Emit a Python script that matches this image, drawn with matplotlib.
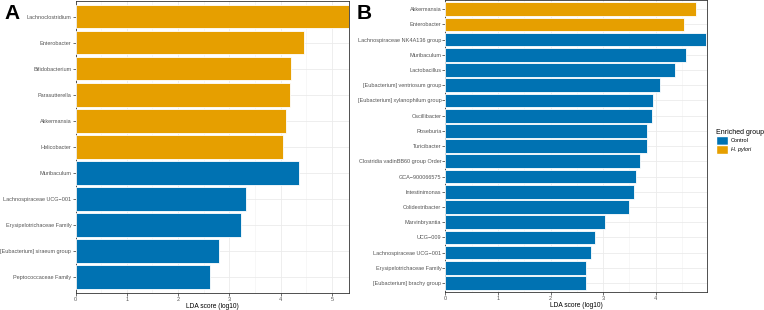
import matplotlib
matplotlib.use("Agg")
import matplotlib.pyplot as plt
from matplotlib.patches import Patch
from matplotlib.ticker import MultipleLocator

plt.rcParams['font.family'] = ['Liberation Sans', 'DejaVu Sans']

# ---- data, panel A (top to bottom)
taxa_a = ["Lachnoclostridium", "Enterobacter", "Bifidobacterium", "Parasutterella",
          "Akkermansia", "Helicobacter", "Muribaculum", "Lachnospiraceae UCG\u2212001",
          "Erysipelotrichaceae Family", "[Eubacterium] siraeum group", "Peptococcaceae Family"]
lda_a = [5.33, 4.45, 4.19, 4.18, 4.11, 4.05, 4.36, 3.32, 3.23, 2.80, 2.62]
group_a = ["H. pylori"] * 6 + ["Control"] * 5

# ---- data, panel B (top to bottom)
taxa_b = ["Akkermansia", "Enterobacter", "Lachnospiraceae NK4A136 group", "Muribaculum",
          "Lactobacillus", "[Eubacterium] ventriosum group", "[Eubacterium] xylanophilum group",
          "Oscillibacter", "Roseburia", "Turicibacter", "Clostridia vadinBB60 group Order",
          "GCA\u2212900066575", "Intestinimonas", "Colidextribacter", "Marvinbryantia",
          "UCG\u2212009", "Lachnospiraceae UCG\u2212001", "Erysipelotrichaceae Family",
          "[Eubacterium] brachy group"]
lda_b = [4.77, 4.54, 4.97, 4.59, 4.38, 4.09, 3.95, 3.94, 3.84, 3.84, 3.70, 3.63,
         3.59, 3.50, 3.03, 2.85, 2.77, 2.68, 2.68]
group_b = ["H. pylori"] * 2 + ["Control"] * 17

colors = {"Control": "#0072B2", "H. pylori": "#E69F00"}

W, H = 764, 310
fig = plt.figure(figsize=(W / 100, H / 100), dpi=100)


def panel(rect, taxa, vals, groups, xmax, xticks):
    ax = fig.add_axes(rect)
    n = len(taxa)
    pos = list(range(n))[::-1]
    ax.barh(pos, vals, height=0.9, color=[colors[g] for g in groups],
            edgecolor="white", linewidth=0.6, zorder=3)
    ax.set_ylim(-0.6, n - 0.4)
    ax.set_xlim(0, xmax)
    ax.set_yticks(pos)
    ax.set_yticklabels(taxa)
    ax.set_xticks(xticks)
    ax.xaxis.set_minor_locator(MultipleLocator(0.5))
    ax.grid(which="major", color="#EBEBEB", linewidth=0.6, zorder=0)
    ax.grid(which="minor", axis="x", color="#F2F2F2", linewidth=0.4, zorder=0)
    ax.tick_params(axis="both", which="major", labelsize=4, labelcolor="#555555",
                   color="#333333", length=2, width=0.5, pad=1)
    ax.tick_params(axis="x", which="minor", length=0)
    for s in ax.spines.values():
        s.set_color("#333333")
        s.set_linewidth(0.6)
    ax.set_xlabel("LDA score (log10)", fontsize=4.8, labelpad=0.5)
    ax.set_axisbelow(True)
    return ax


axa = panel([75.5 / W, (H - 292.8) / H, (349 - 75.5) / W, 291.8 / H],
            taxa_a, lda_a, group_a, 5.33, [0, 1, 2, 3, 4, 5])
axb = panel([445.5 / W, (H - 292.2) / H, (706.7 - 445.5) / W, 292.2 / H],
            taxa_b, lda_b, group_b, 4.975, [0, 1, 2, 3, 4])

fig.text(4 / W, 1 - 4 / H, "A", fontsize=15, fontweight="bold", va="top", ha="left")
fig.text(357 / W, 1 - 4 / H, "B", fontsize=15, fontweight="bold", va="top", ha="left")

handles = [Patch(facecolor=colors["Control"], edgecolor="white", label="Control"),
           Patch(facecolor=colors["H. pylori"], edgecolor="white", label="H. pylori")]
leg = fig.legend(handles=handles, title="Enriched group", loc="upper left",
                 bbox_to_anchor=(716 / W, 1 - 129 / H), frameon=False, fontsize=4,
                 title_fontsize=5, handlelength=2.1, handleheight=2.1,
                 handletextpad=0.6, labelspacing=0.0, borderpad=0, borderaxespad=0)
leg._legend_box.align = "left"
leg.get_texts()[1].set_fontstyle("italic")

fig.savefig("out.png", dpi=100)
